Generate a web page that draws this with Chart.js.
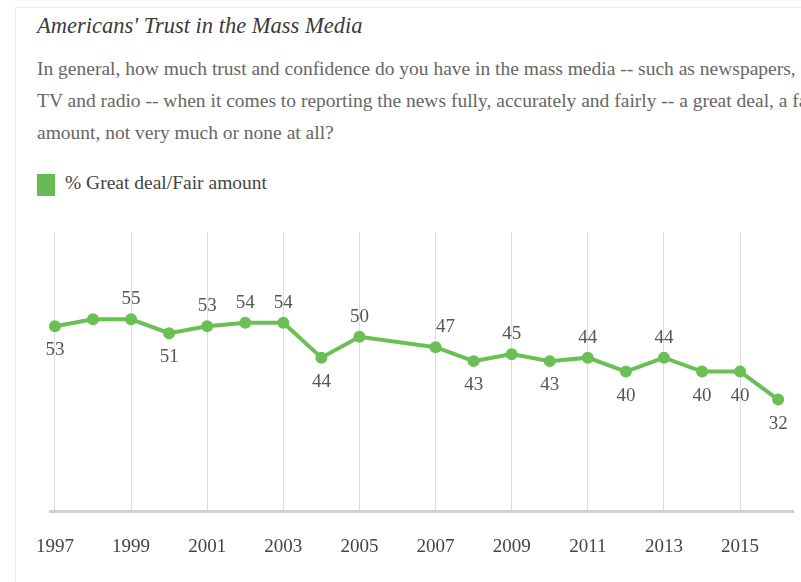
<!DOCTYPE html>
<html>
<head>
<meta charset="utf-8">
<script src="https://cdn.jsdelivr.net/npm/chart.js@4.4.1/dist/chart.umd.min.js"></script>
<style>
  body { margin: 0; background: #fff; width: 801px; height: 582px; overflow: hidden; position: relative; font-family: "Liberation Serif", serif; }
  #frame { position: absolute; left: 15px; top: 7px; right: 0; bottom: 0; border-left: 1px solid #ececec; border-top: 1px solid #ececec; }
  #title { position: absolute; left: 37px; top: 13px; font-style: italic; font-size: 22.5px; color: #3a3a3a; white-space: nowrap; }
  #question { position: absolute; left: 37px; top: 53px; font-size: 19.5px; line-height: 32px; color: #666; white-space: nowrap; }
  #legend { position: absolute; left: 37px; top: 172px; font-size: 19.5px; color: #444; white-space: nowrap; }
  #legend span { display: inline-block; width: 18px; height: 22px; background: #66bb55; vertical-align: middle; margin-right: 10px; }
  #wrap { position: absolute; left: 0; top: 0; width: 801px; height: 582px; }
</style>
</head>
<body>
<div id="frame"></div>
<div id="title">Americans' Trust in the Mass Media</div>
<div id="question">In general, how much trust and confidence do you have in the mass media -- such as newspapers,<br>TV and radio -- when it comes to reporting the news fully, accurately and fairly -- a great deal, a fair<br>amount, not very much or none at all?</div>
<div id="legend"><span></span>% Great deal/Fair amount</div>
<div id="wrap"><canvas id="trustChart" width="801" height="582"></canvas></div>
<script>
// Gallup: % great deal / fair amount of trust in mass media (no 2006 poll)
const years = [1997, 1998, 1999, 2000, 2001, 2002, 2003, 2004, 2005, 2007, 2008, 2009, 2010, 2011, 2012, 2013, 2014, 2015, 2016];
const trust = [53, 55, 55, 51, 53, 54, 54, 44, 50, 47, 43, 45, 43, 44, 40, 44, 40, 40, 32];
const tickYears = [1997, 1999, 2001, 2003, 2005, 2007, 2009, 2011, 2013, 2015];
// where each value label goes relative to its point (null = no label)
const labelSide = ["below", null, "above", "below", "above", "above", "above", "below", "above",
  "aboveRight", "below", "above", "below", "above", "below", "above", "below", "below", "below"];

const green = "#6abf55";

const valueLabels = {
  id: "valueLabels",
  afterDatasetsDraw(chart) {
    const ctx = chart.ctx;
    const meta = chart.getDatasetMeta(0);
    ctx.save();
    ctx.font = "19px 'Liberation Serif', serif";
    ctx.fillStyle = "#555";
    ctx.textAlign = "center";
    ctx.textBaseline = "middle";
    meta.data.forEach((pt, i) => {
      const side = labelSide[i];
      if (!side) return;
      const dy = side === "below" ? 24 : -20;
      const dx = side === "aboveRight" ? 10 : 0;
      ctx.fillText(String(trust[i]), pt.x + dx, pt.y + dy);
    });
    ctx.restore();
  },
};

const ctx = document.getElementById("trustChart").getContext("2d");
new Chart(ctx, {
  type: "line",
  data: {
    datasets: [
      {
        label: "% Great deal/Fair amount",
        data: years.map((y, i) => ({ x: y, y: trust[i] })),
        borderColor: green,
        backgroundColor: green,
        borderWidth: 4,
        pointRadius: 4,
        pointHoverRadius: 4,
        tension: 0,
        clip: false,
      },
    ],
  },
  options: {
    responsive: false,
    animation: false,
    layout: { padding: { top: 232, left: 50, right: 0, bottom: 0 } },
    plugins: {
      legend: { display: false },
      tooltip: { enabled: false },
    },
    scales: {
      x: {
        type: "linear",
        min: 1996.87,
        max: 2016.39,
        afterBuildTicks: (scale) => {
          scale.ticks = tickYears.map((v) => ({ value: v }));
        },
        ticks: {
          color: "#444",
          font: { family: "'Liberation Serif', serif", size: 19 },
          padding: 24,
          maxRotation: 0,
          autoSkip: false,
          callback: (v) => String(v),
        },
        grid: { color: "#dddddd", lineWidth: 1, drawTicks: false },
        border: { color: "#d0d0d0", width: 3 },
      },
      y: {
        display: false,
        min: 0,
        max: 80,
      },
    },
  },
  plugins: [valueLabels],
});
</script>
</body>
</html>
